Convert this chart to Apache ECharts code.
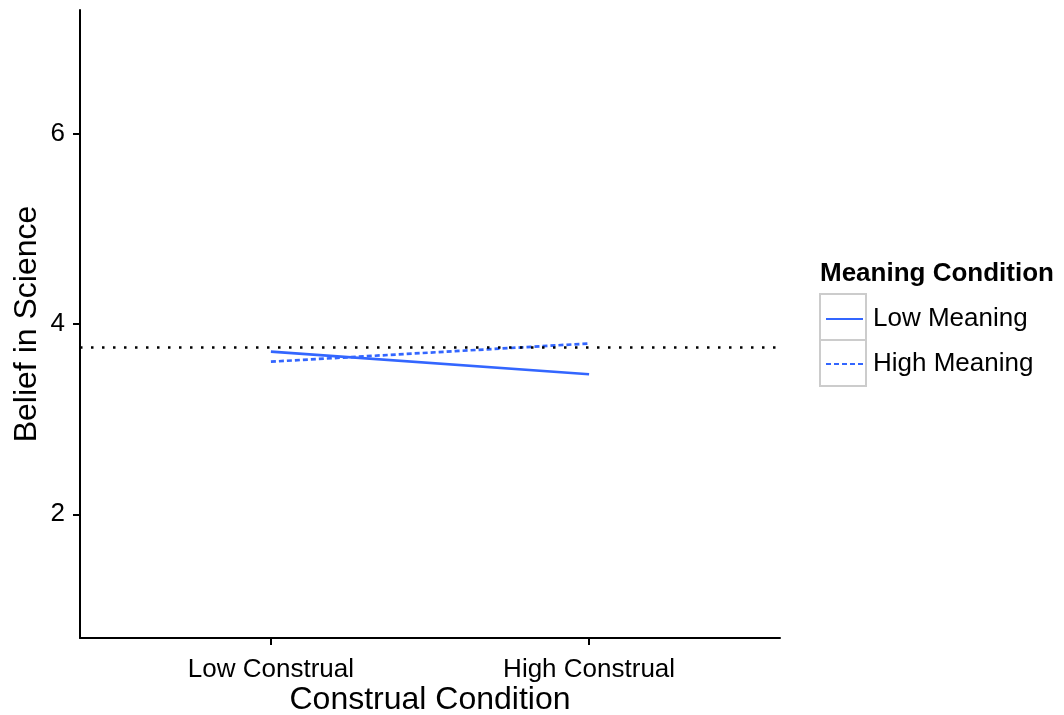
<!DOCTYPE html>
<html><head><meta charset="utf-8">
<script src="https://cdn.jsdelivr.net/npm/echarts@6/dist/echarts.min.js"></script>
<style>html,body{margin:0;padding:0;background:#fff}#c{width:1064px;height:715px}</style>
</head><body><div id="c"></div>
<script>
const categories = ['Low Construal', 'High Construal'];
const categoryPos = [1, 2];
const lowMeaning = [3.71, 3.472];
const highMeaning = [3.604, 3.795];
const referenceLine = 3.758;
const yTicks = [2, 4, 6];
const seriesNames = ['Low Meaning', 'High Meaning'];

const FONT = 'Liberation Sans, Arial, sans-serif';
const chart = echarts.init(document.getElementById('c'), null, {renderer: 'canvas'});
const pairs = v => v.map((y, i) => [categoryPos[i], y]);
chart.setOption({
  animation: false,
  textStyle: {fontFamily: FONT},
  grid: {left: 80, right: 284, top: 10, bottom: 77, containLabel: false, outerBoundsMode: 'none'},
  xAxis: {
    type: 'value', min: 0.4, max: 2.6,
    name: 'Construal Condition', nameLocation: 'middle', nameGap: 46, nameMoveOverlap: false,
    nameTextStyle: {fontSize: 32, color: '#000', fontFamily: FONT},
    axisLine: {lineStyle: {color: '#000', width: 2}},
    axisTick: {show: true, length: 7, lineStyle: {color: '#000', width: 2}, customValues: categoryPos},
    axisLabel: {fontSize: 26, color: '#000', margin: 19, customValues: categoryPos,
      formatter: v => categories[categoryPos.indexOf(v)] || ''},
    splitLine: {show: false}
  },
  yAxis: {
    type: 'value', min: 0.7, max: 7.3,
    name: 'Belief in Science', nameLocation: 'middle', nameGap: 37, nameRotate: 90, nameMoveOverlap: false,
    nameTextStyle: {fontSize: 32, color: '#000', fontFamily: FONT},
    axisLine: {show: true, lineStyle: {color: '#000', width: 2}},
    axisTick: {show: true, length: 7, lineStyle: {color: '#000', width: 2}, customValues: yTicks},
    axisLabel: {fontSize: 26, color: '#000', margin: 15, customValues: yTicks},
    splitLine: {show: false}
  },
  legend: {
    left: 825, top: 306, orient: 'vertical', padding: 0,
    itemWidth: 37, itemHeight: 14, itemGap: 19,
    itemStyle: {opacity: 0},
    textStyle: {fontSize: 26, color: '#000', fontFamily: FONT, padding: [0, 0, 0, 5]},
    data: seriesNames
  },
  graphic: [
    {type: 'text', left: 820, top: 261, style: {text: 'Meaning Condition', font: 'bold 26px ' + FONT, fill: '#000'}},
    {type: 'rect', shape: {x: 820, y: 294, width: 46, height: 46}, style: {fill: 'none', stroke: '#cccccc', lineWidth: 2}, z: -1},
    {type: 'rect', shape: {x: 820, y: 340, width: 46, height: 46}, style: {fill: 'none', stroke: '#cccccc', lineWidth: 2}, z: -1}
  ],
  series: [
    {name: seriesNames[0], type: 'line', data: pairs(lowMeaning), symbol: 'none',
      lineStyle: {color: '#3366FF', width: 2.7}, itemStyle: {color: '#3366FF'}},
    {name: seriesNames[1], type: 'line', data: pairs(highMeaning), symbol: 'none',
      lineStyle: {color: '#3366FF', width: 2.7, type: [5, 3]}, itemStyle: {color: '#3366FF'}},
    {name: 'ref', type: 'line', data: [], symbol: 'none',
      markLine: {silent: true, symbol: 'none', label: {show: false},
        lineStyle: {color: '#000', width: 2.5, type: [2.5, 8.5]},
        data: [{yAxis: referenceLine}]}}
  ]
});
</script></body></html>
